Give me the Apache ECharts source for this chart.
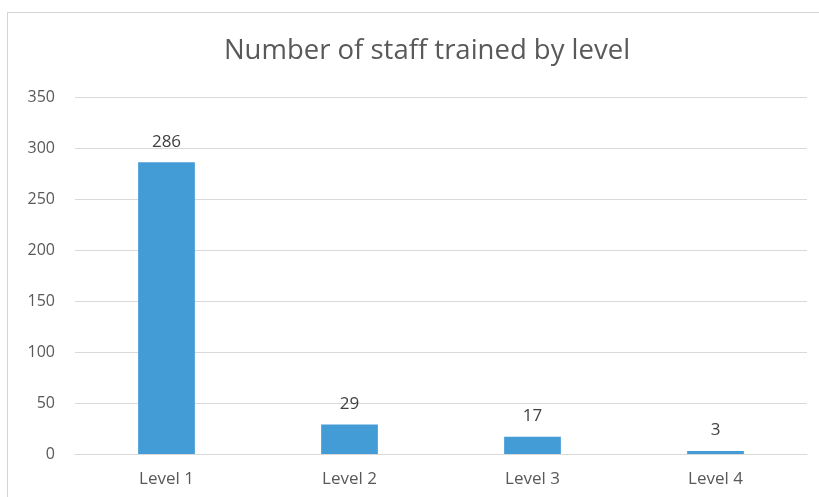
<!DOCTYPE html>
<html>
<head>
  <meta charset="utf-8">
  <title>Number of staff trained by level</title>
  <script src="https://cdn.jsdelivr.net/npm/echarts@6/dist/echarts.min.js"></script>
  <style type="text/css">
    html, body { margin: 0; padding: 0; background: #fff; }
    .frame {
      position: absolute;
      left: 7px; top: 12px;
      width: 840px; height: 520px;
      border: 1px solid #d4d4d4;
    }
    #chart { position: absolute; left: 0; top: 0; width: 819px; height: 497px; }
  </style>
</head>
<body>
  <div class="frame"></div>
  <div id="chart"></div>
  <script>
    // data
    var categories = ['Level 1', 'Level 2', 'Level 3', 'Level 4'];
    var staffTrained = [286, 29, 17, 3];
    var yTicks = [0, 50, 100, 150, 200, 250, 300, 350];

    var myChart = echarts.init(document.getElementById('chart'));
    var option = {
      animation: false,
      title: {
        text: 'Number of staff trained by level',
        left: 422,
        top: 32,
        textAlign: 'center',
        textStyle: {
          fontFamily: 'Open Sans',
          fontWeight: 'normal',
          fontSize: 27.5,
          color: '#595959'
        }
      },
      grid: { left: 75, right: 12, top: 97, bottom: 43 },
      xAxis: {
        type: 'category',
        data: categories,
        axisLine: { lineStyle: { color: '#d9d9d9', width: 1 } },
        axisTick: { show: false },
        axisLabel: { color: '#595959', fontSize: 17, fontFamily: 'Open Sans', margin: 17 }
      },
      yAxis: {
        type: 'value',
        min: yTicks[0],
        max: yTicks[yTicks.length - 1],
        interval: 50,
        axisLine: { show: false },
        axisTick: { show: false },
        splitLine: { lineStyle: { color: '#d9d9d9', width: 1 } },
        axisLabel: { color: '#595959', fontSize: 16, fontFamily: 'Open Sans', margin: 20 }
      },
      series: [{
        type: 'bar',
        data: staffTrained,
        barWidth: '31%',
        itemStyle: { color: '#449cd6' },
        label: {
          show: true,
          position: 'top',
          distance: 12,
          color: '#404040',
          fontSize: 17,
          fontFamily: 'Open Sans'
        }
      }]
    };
    myChart.setOption(option);
  </script>
</body>
</html>
